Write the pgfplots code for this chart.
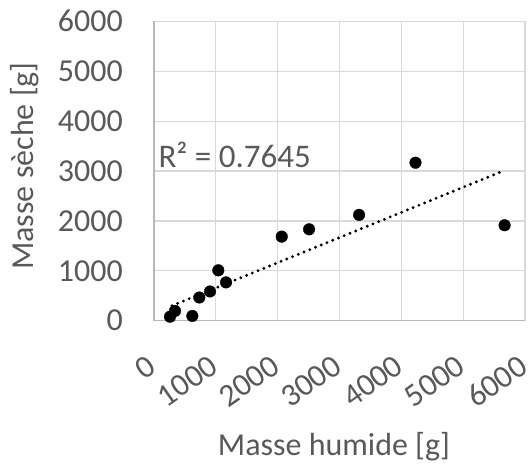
\documentclass[border=0pt]{standalone}
\usepackage{fontspec}
\setmainfont{Carlito}
\usepackage{pgfplots}
\pgfplotsset{compat=1.18}
\definecolor{txt}{HTML}{595959}
\definecolor{gridc}{HTML}{D9D9D9}
\begin{document}
\begin{tikzpicture}
\useasboundingbox (-154pt,-143.3pt) rectangle (375pt,320.7pt);
\begin{axis}[
  at={(0,0)}, anchor=south west,
  scale only axis, width=371pt, height=299.4pt,
  xmin=0, xmax=6000, ymin=0, ymax=6000,
  xtick={0,1000,...,6000}, ytick={0,1000,...,6000},
  scaled ticks=false,
  /pgf/number format/1000 sep={},
  /pgf/number format/assume math mode=true,
  grid=major,
  major grid style={color=gridc, line width=1.2pt},
  axis x line*=bottom, axis y line*=left,
  axis line style={color=gridc!85!black, line width=1.2pt, -},
  major tick length=0pt,
  tick label style={font=\fontsize{32}{38}\selectfont, color=txt},
  yticklabel style={anchor=east, inner sep=0pt, xshift=-31pt},
  xticklabel style={inner sep=0pt, yshift=-33pt, xshift=-8pt, rotate=35, anchor=north east},
  xlabel={Masse humide [g]},
  ylabel={Masse sèche [g]},
  every axis x label/.style={at={(axis description cs:0.485,-0.4486)}, anchor=base, font=\fontsize{32}{38}\selectfont, color=txt},
  every axis y label/.style={at={(axis description cs:-0.3248,0.5167)}, rotate=90, anchor=base, font=\fontsize{32}{38}\selectfont, color=txt},
  clip=false,
]
\addplot[only marks, mark=*, mark size=5.8pt, color=black] coordinates {
  (259,81) (340,196) (620,95) (733,465) (906,586) (1040,1010) (1165,768)
  (2066,1685) (2508,1832) (3317,2121) (4229,3166) (5670,1913)
};
\addplot[black, line width=3.2pt, line cap=round, dash pattern=on 0pt off 6.2pt] coordinates {(290,300) (5655,3005)};
\node[anchor=base west, inner sep=0pt, color=txt, font=\fontsize{33}{38}\selectfont] at (axis cs:70,3079) {R² = 0.7645};
\end{axis}
\end{tikzpicture}
\end{document}
